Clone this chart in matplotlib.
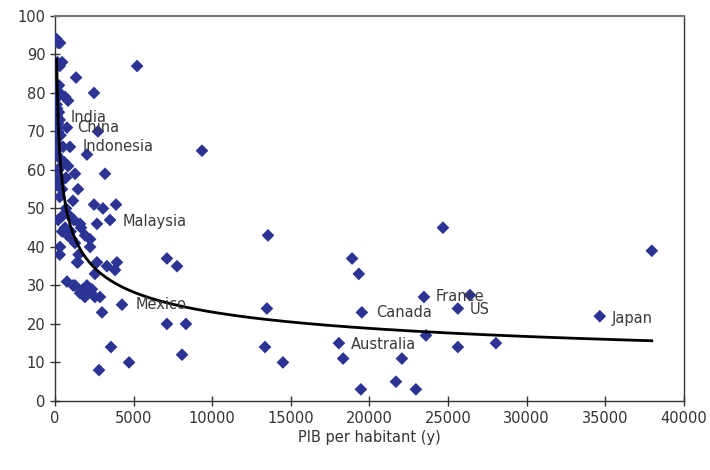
import numpy as np
import matplotlib
matplotlib.use("Agg")
import matplotlib.pyplot as plt

# ---------------- Data ----------------
gdp = [100, 200, 320, 150, 300, 450, 250, 300, 190, 100, 130, 250, 130, 300, 190,
       100, 190, 350, 100, 250, 510, 100, 300, 400, 200, 300, 400, 150, 450, 300,
       450, 320, 300, 450, 200,
       640, 830, 760, 950, 830, 1270, 1140, 1460, 950, 640, 1270, 1080, 760, 1150,
       1400, 1340, 600, 700, 700, 1000, 1200, 800,
       2480, 2730, 2030, 1590, 1650, 1910, 2230, 2230, 2480, 2670, 2540, 2670, 1460,
       1270, 1590, 1780, 2030, 2100, 2540, 2860, 2350, 1900, 2990, 2800, 1500,
       3180, 3050, 3880, 3500, 3300, 3820, 3940, 4260, 3560, 4710, 5220,
       9350, 7120, 7760, 7120, 8330, 8080, 13550, 13480, 13360, 14500,
       18900, 19330, 19520, 18060, 18330, 22070, 23600, 25630, 28050, 21690, 19460,
       22960, 24680, 23470, 26400, 25630, 34660, 37970]
share = [94, 93, 93, 88, 87, 88, 82, 80, 79, 77, 76, 75, 74, 73, 72,
         71, 70, 69, 67, 66, 66, 64, 63, 61, 60, 58, 57, 56, 55, 53,
         48, 40, 38, 44, 47,
         79, 78, 71, 66, 61, 59, 52, 55, 48, 45, 41, 42, 31, 30,
         36, 84, 62, 58, 50, 44, 47, 43,
         80, 70, 64, 46, 45, 43, 42, 40, 51, 46, 33, 36, 36,
         30, 28, 29, 30, 28, 27, 27, 29, 27, 23, 8, 38,
         59, 50, 51, 47, 35, 34, 36, 25, 14, 10, 87,
         65, 37, 35, 20, 20, 12, 43, 24, 14, 10,
         37, 33, 23, 15, 11, 11, 17, 14, 15, 5, 3,
         3, 45, 27, 27.5, 24, 22, 39]

countries = ["India", "China", "Indonesia", "Malaysia", "Mexico",
             "Canada", "Australia", "France", "US", "Japan"]
label_x = [1000, 1400, 1750, 4300, 5100, 20400, 18800, 24200, 26400, 35400]
label_y = [73.5, 71, 66, 46.5, 25, 23, 14.7, 27, 23.8, 21.5]

# ---------------- Power trendline (fit in log space) ----------------
x = np.array(gdp, dtype=float)
y = np.array(share, dtype=float)
b, ln_a = np.polyfit(np.log(x), np.log(y), 1)
xt = np.linspace(x.min(), x.max(), 400)
yt = np.exp(ln_a) * xt ** b

# ---------------- Figure ----------------
plt.rcParams["font.family"] = ["DejaVu Sans"]
fig = plt.figure(figsize=(7.1, 4.7), dpi=100)
ax = fig.add_axes([0.0775, 0.147, 0.8855, 0.819])

ax.scatter(x, y, marker="D", s=42, color="#2b3494", edgecolors="none", zorder=3)
ax.plot(xt, yt, color="black", lw=2, zorder=4)

for name, lx, ly in zip(countries, label_x, label_y):
    ax.text(lx, ly, name, fontsize=10.5, color="#3a3a3a", va="center", ha="left", zorder=5)

ax.set_xlim(0, 40000)
ax.set_ylim(0, 100)
ax.set_xticks(np.arange(0, 40001, 5000))
ax.set_yticks(np.arange(0, 101, 10))
ax.tick_params(direction="inout", length=7, width=1, colors="#333333",
               labelsize=10.5, labelcolor="#333333")
for sp in ax.spines.values():
    sp.set_color("#333333")
    sp.set_linewidth(1)
ax.spines["top"].set_color("#777777")
ax.spines["top"].set_linewidth(1.5)

ax.set_xlabel("PIB per habitant (y)", fontsize=10.5, color="#333333", labelpad=3)

fig.savefig("out.png", dpi=100)
